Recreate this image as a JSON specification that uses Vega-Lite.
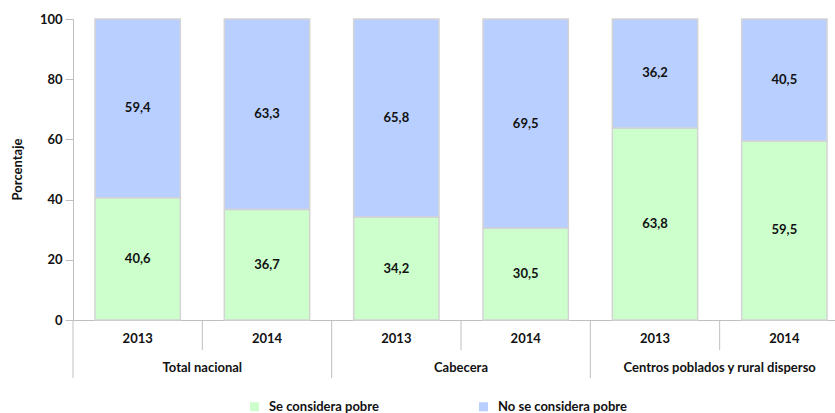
{
  "$schema": "https://vega.github.io/schema/vega-lite/v6.json",
  "width": 762,
  "height": 301,
  "autosize": {"type": "none"},
  "padding": {"left": 73, "top": 19, "right": 0, "bottom": 93},
  "config": {
    "font": "Lato",
    "view": {"stroke": null},
    "locale": {"number": {"decimal": ",", "thousands": ".", "grouping": [3], "currency": ["", ""]}}
  },
  "data": {
    "values": [
      {"grupo": "Total nacional", "anio": "2013", "cat": "Total nacional|2013", "serie": "Se considera pobre", "valor": 40.6},
      {"grupo": "Total nacional", "anio": "2013", "cat": "Total nacional|2013", "serie": "No se considera pobre", "valor": 59.4},
      {"grupo": "Total nacional", "anio": "2014", "cat": "Total nacional|2014", "serie": "Se considera pobre", "valor": 36.7},
      {"grupo": "Total nacional", "anio": "2014", "cat": "Total nacional|2014", "serie": "No se considera pobre", "valor": 63.3},
      {"grupo": "Cabecera", "anio": "2013", "cat": "Cabecera|2013", "serie": "Se considera pobre", "valor": 34.2},
      {"grupo": "Cabecera", "anio": "2013", "cat": "Cabecera|2013", "serie": "No se considera pobre", "valor": 65.8},
      {"grupo": "Cabecera", "anio": "2014", "cat": "Cabecera|2014", "serie": "Se considera pobre", "valor": 30.5},
      {"grupo": "Cabecera", "anio": "2014", "cat": "Cabecera|2014", "serie": "No se considera pobre", "valor": 69.5},
      {"grupo": "Centros poblados y rural disperso", "anio": "2013", "cat": "Centros poblados y rural disperso|2013", "serie": "Se considera pobre", "valor": 63.8},
      {"grupo": "Centros poblados y rural disperso", "anio": "2013", "cat": "Centros poblados y rural disperso|2013", "serie": "No se considera pobre", "valor": 36.2},
      {"grupo": "Centros poblados y rural disperso", "anio": "2014", "cat": "Centros poblados y rural disperso|2014", "serie": "Se considera pobre", "valor": 59.5},
      {"grupo": "Centros poblados y rural disperso", "anio": "2014", "cat": "Centros poblados y rural disperso|2014", "serie": "No se considera pobre", "valor": 40.5}
    ]
  },
  "encoding": {
    "x": {
      "field": "cat",
      "type": "nominal",
      "sort": null,
      "scale": {"range": [0, 776], "paddingInner": 0, "paddingOuter": 0},
      "axis": {
        "title": null,
        "ticks": false,
        "domainColor": "#bfbfbf",
        "labelAngle": 0,
        "labelExpr": "split(datum.value, '|')[1]",
        "labelFont": "Lato",
        "labelFontSize": 13,
        "labelFontWeight": "bold",
        "labelColor": "#111111",
        "labelPadding": 12
      }
    }
  },
  "layer": [
    {
      "mark": {"type": "bar", "width": {"band": 0.66}, "stroke": "#d4d4d4", "strokeWidth": 1.5},
      "encoding": {
        "y": {
          "field": "valor",
          "type": "quantitative",
          "stack": "zero",
          "scale": {"domain": [0, 100], "nice": false},
          "axis": {
            "values": [0, 20, 40, 60, 80, 100],
            "grid": false,
            "domainColor": "#bfbfbf",
            "tickColor": "#bfbfbf",
            "tickSize": 8,
            "labelFont": "Lato",
            "labelFontSize": 13,
            "labelFontWeight": "bold",
            "labelColor": "#111111",
            "labelPadding": 3,
            "format": "d",
            "title": "Porcentaje",
            "titleFont": "Lato",
            "titleFontSize": 13,
            "titleFontWeight": "bold",
            "titleColor": "#111111",
            "titleX": -56,
            "titleY": 150,
            "titleAlign": "center",
            "titleBaseline": "middle",
            "titleAngle": -90
          }
        },
        "color": {
          "field": "serie",
          "type": "nominal",
          "scale": {"domain": ["Se considera pobre", "No se considera pobre"], "range": ["#ccffcc", "#b8cfff"]},
          "legend": {
            "title": null,
            "orient": "none",
            "direction": "horizontal",
            "legendX": 175,
            "legendY": 381,
            "symbolType": "square",
            "symbolSize": 81,
            "symbolStrokeWidth": 0,
            "columnPadding": 98,
            "labelFont": "Lato",
            "labelFontSize": 13,
            "labelFontWeight": "bold",
            "labelColor": "#111111",
            "labelOffset": 8
          }
        },
        "order": {"field": "serie", "sort": "descending"}
      }
    },
    {
      "transform": [
        {"stack": "valor", "groupby": ["cat"], "sort": [{"field": "serie", "order": "descending"}], "as": ["v0", "v1"]},
        {"fold": ["v0", "v1"], "as": ["k", "pos"]},
        {"aggregate": [{"op": "mean", "field": "pos", "as": "mid"}], "groupby": ["cat", "serie", "valor"]}
      ],
      "mark": {"type": "text", "font": "Lato", "fontSize": 13, "fontWeight": "bold", "color": "#111111", "baseline": "middle"},
      "encoding": {
        "y": {"field": "mid", "type": "quantitative"},
        "text": {"field": "valor", "type": "quantitative", "format": ".1f"}
      }
    },
    {
      "transform": [{"filter": "datum.anio == '2013' && datum.serie == 'Se considera pobre'"}],
      "mark": {"type": "rule", "color": "#bfbfbf", "strokeWidth": 1},
      "encoding": {
        "x": {"field": "cat", "type": "nominal", "sort": null, "bandPosition": 0},
        "y": {"datum": 0},
        "y2": {"datum": -19.3}
      }
    },
    {
      "transform": [{"filter": "datum.anio == '2014' && datum.serie == 'Se considera pobre'"}],
      "mark": {"type": "rule", "color": "#bfbfbf", "strokeWidth": 1},
      "encoding": {
        "x": {"field": "cat", "type": "nominal", "sort": null, "bandPosition": 0},
        "y": {"datum": 0},
        "y2": {"datum": -10}
      }
    },
    {
      "transform": [{"filter": "datum.anio == '2014' && datum.serie == 'Se considera pobre'"}],
      "mark": {"type": "text", "font": "Lato", "fontSize": 13, "fontWeight": "bold", "color": "#111111", "baseline": "middle"},
      "encoding": {
        "x": {"field": "cat", "type": "nominal", "sort": null, "bandPosition": 0},
        "y": {"datum": -16},
        "text": {"field": "grupo"}
      }
    }
  ]
}
